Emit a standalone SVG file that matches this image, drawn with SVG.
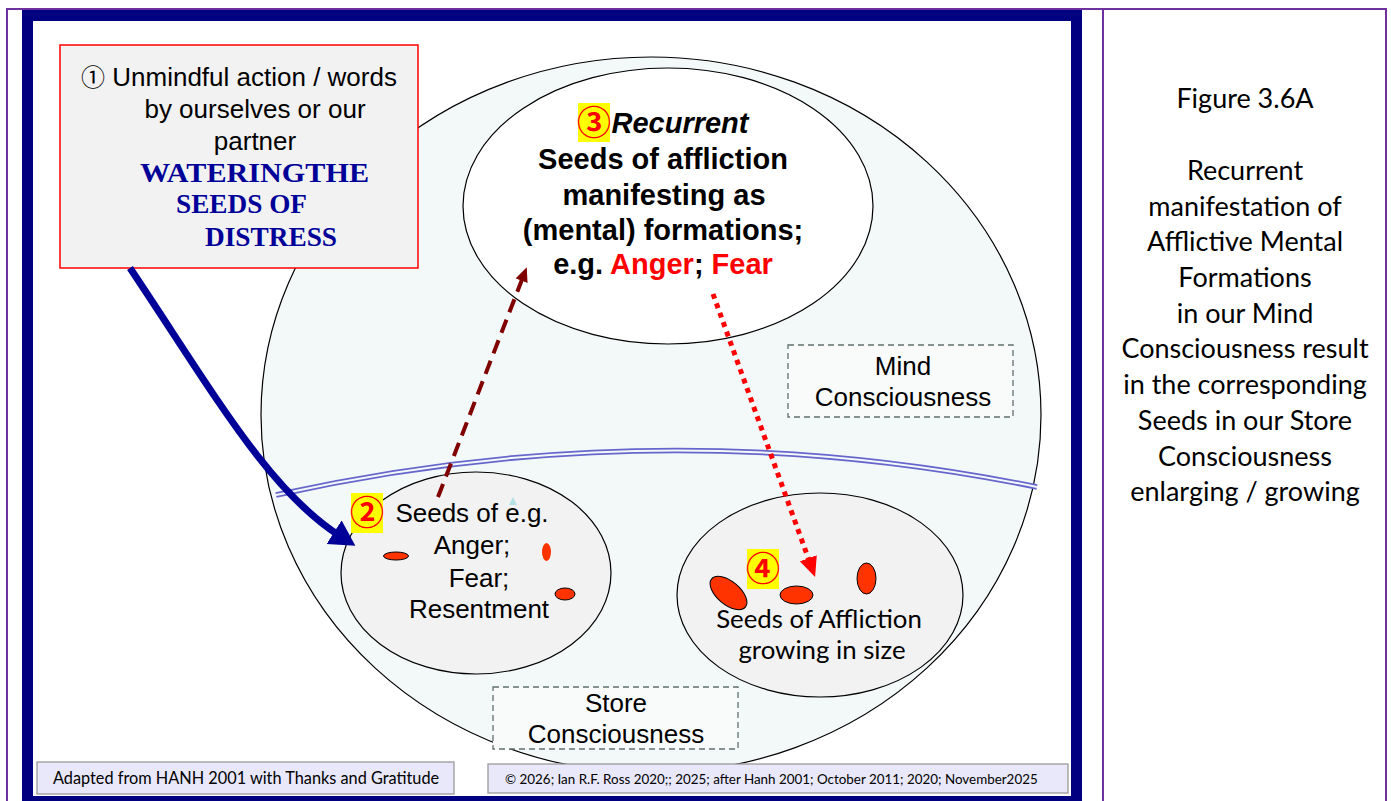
<svg xmlns="http://www.w3.org/2000/svg" width="1391" height="801" viewBox="0 0 1391 801">
<style>
.ar{font-family:"Liberation Sans",Arial,sans-serif;fill:#000}
.cal{font-family:Lato,"Open Sans",sans-serif;fill:#000}
.arb{font-family:"Liberation Sans",Arial,sans-serif;font-weight:bold;fill:#000}
.cap{font-family:"Liberation Serif","Times New Roman",serif;font-weight:bold;fill:#000099}
.badge{fill:#FFFF00}
.num{font-family:"Noto Sans CJK JP","DejaVu Sans",sans-serif;fill:#FF0000;font-weight:bold}
.seed{fill:#FF3300;stroke:#000;stroke-width:1}
.dbox{fill:#F9FBFB;stroke:#607070;stroke-width:1.3;stroke-dasharray:6,4}
.foot{fill:#E8E8FA;stroke:#9A9A9A;stroke-width:1.3}
</style>
<defs>
<marker id="mBlue" markerWidth="5" markerHeight="5" refX="1" refY="2" orient="auto" markerUnits="strokeWidth"><path d="M0,0 L3.6,2 L0,4 Z" fill="#000099"/></marker>
<marker id="mMaroon" markerWidth="5" markerHeight="5" refX="1" refY="1.6" orient="auto" markerUnits="strokeWidth"><path d="M0,0 L3.6,1.6 L0,3.2 Z" fill="#800000"/></marker>
<marker id="mRed" markerWidth="5" markerHeight="5" refX="1" refY="1.8" orient="auto" markerUnits="strokeWidth"><path d="M0,0 L4,1.8 L0,3.6 Z" fill="#FF0000"/></marker>
</defs>
<rect x="0" y="0" width="1391" height="801" fill="#FFFFFF"/>
<g id="frame">
<path d="M7,805 V9 H1386 V805 M1103,9 V805" fill="none" stroke="#7030A0" stroke-width="2"/>
<rect x="27.5" y="15.5" width="1049" height="786" fill="#FFFFFF" stroke="#000080" stroke-width="11"/>
</g>
<g id="big-ellipse">
<ellipse cx="651" cy="415" rx="390" ry="358" fill="#F3F8F8" stroke="#000" stroke-width="1.2"/>
</g>
<g id="separator">
<path d="M276,495 Q660,410 1037,487" fill="none" stroke="#6666CC" stroke-width="5.5"/>
<path d="M276,495 Q660,410 1037,487" fill="none" stroke="#F3F8F8" stroke-width="2"/>
</g>
<g id="mind-ellipse">
<ellipse cx="668" cy="206" rx="205" ry="138" fill="#FFFFFF" stroke="#000" stroke-width="1.2"/>
<text class="arb" font-size="29" text-anchor="middle"><tspan x="680" y="133" font-style="italic">Recurrent</tspan><tspan x="663" y="169">Seeds of affliction</tspan><tspan x="664" y="205">manifesting as</tspan><tspan x="663" y="240">(mental) formations;</tspan><tspan x="663" y="274">e.g. <tspan fill="#FF0000">Anger</tspan>; <tspan fill="#FF0000">Fear</tspan></tspan></text>
</g>
<g id="store-left">
<ellipse cx="476" cy="573" rx="135" ry="101" fill="#F2F2F2" stroke="#000" stroke-width="1.2"/>
<ellipse class="seed" cx="396" cy="556" rx="12.5" ry="4"/>
<ellipse cx="546.5" cy="552" rx="4.5" ry="9" fill="#FF3300"/>
<ellipse class="seed" cx="565" cy="594" rx="10" ry="6"/>
<path d="M513,497 L509,505 L517,505 Z" fill="#B4E0E6"/>
<text class="ar" font-size="26" text-anchor="middle"><tspan x="472" y="522">Seeds of e.g.</tspan><tspan x="472" y="554">Anger;</tspan><tspan x="479" y="587">Fear;</tspan><tspan x="479" y="618">Resentment</tspan></text>
</g>
<g id="store-right">
<ellipse cx="820" cy="595" rx="143" ry="102" fill="#F2F2F2" stroke="#000" stroke-width="1.2"/>
<ellipse class="seed" cx="728.5" cy="593" rx="22" ry="11.5" transform="rotate(40 728.5 593)"/>
<ellipse class="seed" cx="796.5" cy="595" rx="16.5" ry="9"/>
<ellipse class="seed" cx="866.5" cy="578.5" rx="9.5" ry="15.5"/>
<text class="cal" font-size="25.8" text-anchor="middle"><tspan x="819" y="628">Seeds of Affliction</tspan><tspan x="822" y="659">growing in size</tspan></text>
</g>
<g id="mind-label">
<rect class="dbox" x="788" y="345" width="225" height="72"/>
<text class="ar" font-size="26" text-anchor="middle"><tspan x="903" y="375">Mind</tspan><tspan x="903" y="406">Consciousness</tspan></text>
</g>
<g id="store-label">
<rect class="dbox" x="493" y="687" width="245" height="62"/>
<text class="ar" font-size="26" text-anchor="middle"><tspan x="616" y="712">Store</tspan><tspan x="616" y="743">Consciousness</tspan></text>
</g>
<g id="action-box">
<rect x="60" y="45" width="358" height="223" fill="#F2F2F2" stroke="#FF0000" stroke-width="1.5"/>
<text class="ar" font-size="26" text-anchor="middle"><tspan x="239" y="86"><tspan font-family="Noto Sans CJK JP,DejaVu Sans,sans-serif" font-size="24">①</tspan> Unmindful action / words</tspan><tspan x="255" y="118">by ourselves or our</tspan><tspan x="255" y="150">partner</tspan></text>
<text class="cap" font-size="27"><tspan x="140" y="182" textLength="229" lengthAdjust="spacingAndGlyphs">WATERINGTHE</tspan><tspan x="176" y="213" textLength="131" lengthAdjust="spacingAndGlyphs">SEEDS OF</tspan><tspan x="205" y="246" textLength="132" lengthAdjust="spacingAndGlyphs">DISTRESS</tspan></text>
</g>
<g id="connectors">
<path d="M130,268 C215,395 268,490 340,536" fill="none" stroke="#000099" stroke-width="7" marker-end="url(#mBlue)"/>
<path d="M438,497 L523,277" fill="none" stroke="#800000" stroke-width="4" stroke-dasharray="14,8" marker-end="url(#mMaroon)"/>
<path d="M713,294 L810,563" fill="none" stroke="#FF0000" stroke-width="5" stroke-dasharray="5,5" marker-end="url(#mRed)"/>
</g>
<g id="badges">
<rect class="badge" x="351" y="493" width="32" height="40"/>
<text class="num" x="367" y="525" font-size="34" text-anchor="middle">②</text>
<rect class="badge" x="578" y="103" width="32" height="39"/>
<text class="num" x="594" y="135" font-size="34" text-anchor="middle">③</text>
<rect class="badge" x="747" y="549" width="32" height="40"/>
<text class="num" x="763" y="581" font-size="34" text-anchor="middle">④</text>
</g>
<g id="caption">
<text class="cal" font-size="27" text-anchor="middle"><tspan x="1245" y="108">Figure 3.6A</tspan><tspan x="1245" y="180">Recurrent</tspan><tspan x="1245" y="216">manifestation of</tspan><tspan x="1245" y="251">Afflictive Mental</tspan><tspan x="1245" y="287">Formations</tspan><tspan x="1245" y="323">in our Mind</tspan><tspan x="1245" y="358">Consciousness result</tspan><tspan x="1245" y="394">in the corresponding</tspan><tspan x="1245" y="430">Seeds in our Store</tspan><tspan x="1245" y="466">Consciousness</tspan><tspan x="1245" y="501">enlarging / growing</tspan></text>
</g>
<g id="footer">
<rect class="foot" x="37" y="762" width="417" height="32"/>
<text class="cal" font-size="16.3" x="53" y="784">Adapted from HANH 2001 with Thanks and Gratitude</text>
<rect class="foot" x="488" y="764" width="580" height="29"/>
<text class="cal" font-size="13.4" x="505" y="784">©  2026; Ian R.F. Ross 2020;; 2025; after Hanh 2001; October 2011; 2020; November2025</text>
</g>
</svg>
